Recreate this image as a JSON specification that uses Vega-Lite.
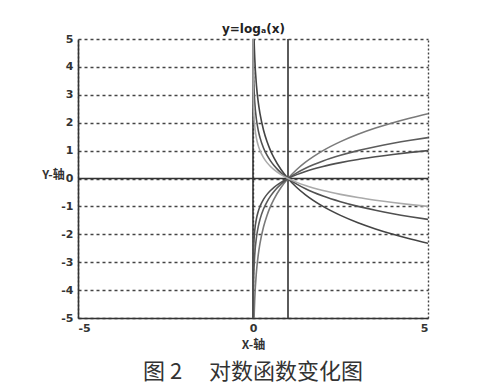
{
  "$schema": "https://vega.github.io/schema/vega-lite/v6.json",
  "autosize": {"type": "none"},
  "width": 350,
  "height": 279,
  "padding": {"left": 78, "top": 39, "right": 58, "bottom": 67},
  "background": "white",
  "config": {"view": {"stroke": null}, "font": "DejaVu Sans", "locale": {"number": {"decimal": ".", "thousands": ",", "grouping": [3], "currency": ["", ""], "minus": "-"}}},
  "title": {"text": "图 2 \u3000对数函数变化图", "orient": "bottom", "anchor": "middle", "font": "Noto Sans CJK SC", "fontSize": 22, "fontWeight": "normal", "color": "#333", "offset": 12},
  "datasets": {
    "curves": [
      {"a": "2", "x": 0.02, "y": -5.644}, {"a": "2", "x": 0.03, "y": -5.059}, {"a": "2", "x": 0.05, "y": -4.322}, {"a": "2", "x": 0.1, "y": -3.322}, {"a": "2", "x": 0.15, "y": -2.737}, {"a": "2", "x": 0.2, "y": -2.322}, {"a": "2", "x": 0.3, "y": -1.737}, {"a": "2", "x": 0.4, "y": -1.322}, {"a": "2", "x": 0.5, "y": -1}, {"a": "2", "x": 0.6, "y": -0.737}, {"a": "2", "x": 0.8, "y": -0.322}, {"a": "2", "x": 1, "y": 0}, {"a": "2", "x": 1.25, "y": 0.322}, {"a": "2", "x": 1.5, "y": 0.585}, {"a": "2", "x": 2, "y": 1}, {"a": "2", "x": 2.5, "y": 1.322}, {"a": "2", "x": 3, "y": 1.585}, {"a": "2", "x": 3.5, "y": 1.807}, {"a": "2", "x": 4, "y": 2}, {"a": "2", "x": 4.5, "y": 2.17}, {"a": "2", "x": 5, "y": 2.322},
      {"a": "3", "x": 0.004, "y": -5.026}, {"a": "3", "x": 0.01, "y": -4.192}, {"a": "3", "x": 0.02, "y": -3.561}, {"a": "3", "x": 0.03, "y": -3.192}, {"a": "3", "x": 0.05, "y": -2.727}, {"a": "3", "x": 0.1, "y": -2.096}, {"a": "3", "x": 0.15, "y": -1.727}, {"a": "3", "x": 0.2, "y": -1.465}, {"a": "3", "x": 0.3, "y": -1.096}, {"a": "3", "x": 0.4, "y": -0.834}, {"a": "3", "x": 0.5, "y": -0.631}, {"a": "3", "x": 0.6, "y": -0.465}, {"a": "3", "x": 0.8, "y": -0.203}, {"a": "3", "x": 1, "y": 0}, {"a": "3", "x": 1.25, "y": 0.203}, {"a": "3", "x": 1.5, "y": 0.369}, {"a": "3", "x": 2, "y": 0.631}, {"a": "3", "x": 2.5, "y": 0.834}, {"a": "3", "x": 3, "y": 1}, {"a": "3", "x": 3.5, "y": 1.14}, {"a": "3", "x": 4, "y": 1.262}, {"a": "3", "x": 4.5, "y": 1.369}, {"a": "3", "x": 5, "y": 1.465},
      {"a": "5", "x": 0.0003, "y": -5.04}, {"a": "5", "x": 0.001, "y": -4.292}, {"a": "5", "x": 0.004, "y": -3.431}, {"a": "5", "x": 0.01, "y": -2.861}, {"a": "5", "x": 0.02, "y": -2.431}, {"a": "5", "x": 0.03, "y": -2.179}, {"a": "5", "x": 0.05, "y": -1.861}, {"a": "5", "x": 0.1, "y": -1.431}, {"a": "5", "x": 0.15, "y": -1.179}, {"a": "5", "x": 0.2, "y": -1}, {"a": "5", "x": 0.3, "y": -0.748}, {"a": "5", "x": 0.4, "y": -0.569}, {"a": "5", "x": 0.5, "y": -0.431}, {"a": "5", "x": 0.6, "y": -0.317}, {"a": "5", "x": 0.8, "y": -0.139}, {"a": "5", "x": 1, "y": 0}, {"a": "5", "x": 1.25, "y": 0.139}, {"a": "5", "x": 1.5, "y": 0.252}, {"a": "5", "x": 2, "y": 0.431}, {"a": "5", "x": 2.5, "y": 0.569}, {"a": "5", "x": 3, "y": 0.683}, {"a": "5", "x": 3.5, "y": 0.778}, {"a": "5", "x": 4, "y": 0.861}, {"a": "5", "x": 4.5, "y": 0.935}, {"a": "5", "x": 5, "y": 1},
      {"a": "1/2", "x": 0.02, "y": 5.644}, {"a": "1/2", "x": 0.03, "y": 5.059}, {"a": "1/2", "x": 0.05, "y": 4.322}, {"a": "1/2", "x": 0.1, "y": 3.322}, {"a": "1/2", "x": 0.15, "y": 2.737}, {"a": "1/2", "x": 0.2, "y": 2.322}, {"a": "1/2", "x": 0.3, "y": 1.737}, {"a": "1/2", "x": 0.4, "y": 1.322}, {"a": "1/2", "x": 0.5, "y": 1}, {"a": "1/2", "x": 0.6, "y": 0.737}, {"a": "1/2", "x": 0.8, "y": 0.322}, {"a": "1/2", "x": 1, "y": 0}, {"a": "1/2", "x": 1.25, "y": -0.322}, {"a": "1/2", "x": 1.5, "y": -0.585}, {"a": "1/2", "x": 2, "y": -1}, {"a": "1/2", "x": 2.5, "y": -1.322}, {"a": "1/2", "x": 3, "y": -1.585}, {"a": "1/2", "x": 3.5, "y": -1.807}, {"a": "1/2", "x": 4, "y": -2}, {"a": "1/2", "x": 4.5, "y": -2.17}, {"a": "1/2", "x": 5, "y": -2.322},
      {"a": "1/3", "x": 0.004, "y": 5.026}, {"a": "1/3", "x": 0.01, "y": 4.192}, {"a": "1/3", "x": 0.02, "y": 3.561}, {"a": "1/3", "x": 0.03, "y": 3.192}, {"a": "1/3", "x": 0.05, "y": 2.727}, {"a": "1/3", "x": 0.1, "y": 2.096}, {"a": "1/3", "x": 0.15, "y": 1.727}, {"a": "1/3", "x": 0.2, "y": 1.465}, {"a": "1/3", "x": 0.3, "y": 1.096}, {"a": "1/3", "x": 0.4, "y": 0.834}, {"a": "1/3", "x": 0.5, "y": 0.631}, {"a": "1/3", "x": 0.6, "y": 0.465}, {"a": "1/3", "x": 0.8, "y": 0.203}, {"a": "1/3", "x": 1, "y": 0}, {"a": "1/3", "x": 1.25, "y": -0.203}, {"a": "1/3", "x": 1.5, "y": -0.369}, {"a": "1/3", "x": 2, "y": -0.631}, {"a": "1/3", "x": 2.5, "y": -0.834}, {"a": "1/3", "x": 3, "y": -1}, {"a": "1/3", "x": 3.5, "y": -1.14}, {"a": "1/3", "x": 4, "y": -1.262}, {"a": "1/3", "x": 4.5, "y": -1.369}, {"a": "1/3", "x": 5, "y": -1.465},
      {"a": "1/5", "x": 0.0003, "y": 5.04}, {"a": "1/5", "x": 0.001, "y": 4.292}, {"a": "1/5", "x": 0.004, "y": 3.431}, {"a": "1/5", "x": 0.01, "y": 2.861}, {"a": "1/5", "x": 0.02, "y": 2.431}, {"a": "1/5", "x": 0.03, "y": 2.179}, {"a": "1/5", "x": 0.05, "y": 1.861}, {"a": "1/5", "x": 0.1, "y": 1.431}, {"a": "1/5", "x": 0.15, "y": 1.179}, {"a": "1/5", "x": 0.2, "y": 1}, {"a": "1/5", "x": 0.3, "y": 0.748}, {"a": "1/5", "x": 0.4, "y": 0.569}, {"a": "1/5", "x": 0.5, "y": 0.431}, {"a": "1/5", "x": 0.6, "y": 0.317}, {"a": "1/5", "x": 0.8, "y": 0.139}, {"a": "1/5", "x": 1, "y": 0}, {"a": "1/5", "x": 1.25, "y": -0.139}, {"a": "1/5", "x": 1.5, "y": -0.252}, {"a": "1/5", "x": 2, "y": -0.431}, {"a": "1/5", "x": 2.5, "y": -0.569}, {"a": "1/5", "x": 3, "y": -0.683}, {"a": "1/5", "x": 3.5, "y": -0.778}, {"a": "1/5", "x": 4, "y": -0.861}, {"a": "1/5", "x": 4.5, "y": -0.935}, {"a": "1/5", "x": 5, "y": -1}
    ],
    "vlines": [{"x": 0}, {"x": 1}],
    "hlines": [{"y": 0}]
  },
  "layer": [
    {
      "data": {"name": "hlines"},
      "mark": {"type": "rule", "color": "#333", "strokeWidth": 1.6},
      "encoding": {
        "y": {"field": "y", "type": "quantitative"}
      }
    },
    {
      "data": {"name": "vlines"},
      "mark": {"type": "rule", "color": "#333", "strokeWidth": 1.6},
      "encoding": {
        "x": {"field": "x", "type": "quantitative", "scale": {"domain": [-5, 5], "nice": false},
          "axis": {"values": [-5, 0, 5], "format": "d", "labelOverlap": false, "grid": true, "gridDash": [2, 2], "gridColor": "#444", "gridWidth": 1.4, "gridOpacity": 1,
            "ticks": false, "labelPadding": 4, "labelFont": "DejaVu Sans", "labelFontSize": 11, "labelFontWeight": "bold", "labelColor": "#333",
            "domainColor": "#333", "domainWidth": 1.6,
            "title": "X-轴", "titlePadding": 6, "titleFont": "Noto Sans CJK SC", "titleFontSize": 12, "titleFontWeight": "bold", "titleColor": "#333"}}
      }
    },
    {
      "data": {"name": "curves"},
      "mark": {"type": "line", "clip": true, "strokeWidth": 1.6, "interpolate": "monotone"},
      "encoding": {
        "x": {"field": "x", "type": "quantitative", "axis": {"orient": "top", "title": "y=logₐ(x)", "titleFont": "DejaVu Sans", "titleFontSize": 12, "titleFontWeight": "bold", "titleColor": "#222", "titlePadding": 4, "labels": false, "ticks": false, "domain": false, "grid": false}},
        "y": {"field": "y", "type": "quantitative", "scale": {"domain": [-5, 5], "nice": false},
          "axis": {"values": [-5, -4, -3, -2, -1, 0, 1, 2, 3, 4, 5], "tickCount": 11, "format": "d", "labelOverlap": false, "labelBound": false, "labelFlush": false, "grid": true, "gridDash": [3, 3], "gridColor": "#444", "gridWidth": 1.4, "gridOpacity": 1,
            "ticks": false, "labelPadding": 5, "labelFont": "DejaVu Sans", "labelFontSize": 11, "labelFontWeight": "bold", "labelColor": "#333",
            "domainColor": "#333", "domainWidth": 1.6,
            "title": "Y-轴", "titleAngle": 0, "titleX": -25, "titleY": 139, "titleAlign": "center", "titleBaseline": "alphabetic", "titleFont": "Noto Sans CJK SC", "titleFontSize": 12, "titleFontWeight": "bold", "titleColor": "#333"}},
        "detail": {"field": "a"},
        "color": {"field": "a", "type": "nominal", "legend": null,
          "scale": {"domain": ["2", "3", "5", "1/2", "1/3", "1/5"], "range": ["#7a7a7a", "#5c5c5c", "#505050", "#444444", "#505050", "#aaaaaa"]}}
      }
    }
  ],
  "resolve": {"axis": {"x": "independent"}}
}
